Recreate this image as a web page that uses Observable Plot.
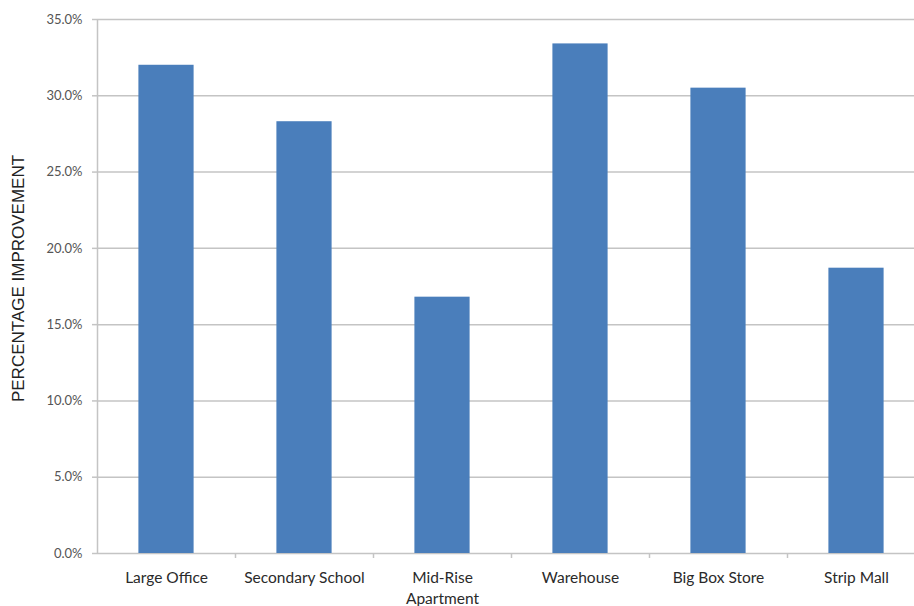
<!DOCTYPE html>
<html>
<head>
<meta charset="utf-8">
<script src="https://cdn.jsdelivr.net/npm/d3@7"></script>
<script src="https://cdn.jsdelivr.net/npm/@observablehq/plot@0.6"></script>
<style>
  html, body { margin: 0; padding: 0; background: #fff; }
  #chart svg { display: block; }
</style>
</head>
<body>
<div id="chart"></div>
<script>
// Building types and their percentage improvement
const categories = ["Large Office", "Secondary School", "Mid-Rise\nApartment", "Warehouse", "Big Box Store", "Strip Mall"];
const improvement = [32.0, 28.3, 16.8, 33.4, 30.5, 18.7];
const yTicks = [0, 5, 10, 15, 20, 25, 30, 35];

const rows = categories.map((name, i) => ({name, i, value: improvement[i]}));
const boundaries = d3.range(1, categories.length + 1);

const gridColor = "#c4c4c4";
const barColor = "#4a7ebb";

const chart = Plot.plot({
  width: 914,
  height: 606,
  marginTop: 19,
  marginBottom: 53,
  marginLeft: 97,
  marginRight: -11,
  style: {background: "#fff", fontFamily: "Lato, 'Open Sans', sans-serif"},
  x: {type: "linear", domain: [0, categories.length], axis: null},
  y: {domain: [0, 35], axis: null},
  marks: [
    // horizontal gridlines
    Plot.ruleY(yTicks, {stroke: gridColor, strokeWidth: 1.5}),
    // vertical axis line
    Plot.ruleX([0], {stroke: gridColor, strokeWidth: 1.5}),
    // bars
    Plot.rectY(rows, {
      x1: d => d.i + 0.3,
      x2: d => d.i + 0.7,
      y1: 0,
      y2: "value",
      fill: barColor
    }),
    // y axis ticks and labels
    Plot.axisY({
      ticks: yTicks,
      tickSize: 5,
      tickPadding: 10,
      stroke: gridColor,
      strokeWidth: 1.5,
      fontSize: 13,
      fill: "#555",
      tickFormat: d => d.toFixed(1) + "%",
      label: null
    }),
    // category boundary ticks along the baseline
    Plot.axisX({
      ticks: boundaries,
      tickSize: 5,
      tickFormat: () => "",
      stroke: gridColor,
      strokeWidth: 1.5,
      label: null
    }),
    // category names
    Plot.text(rows, {
      x: d => d.i + 0.5,
      text: "name",
      frameAnchor: "bottom",
      lineAnchor: "top",
      dy: 15,
      lineHeight: 1.33,
      fontSize: 15.5,
      fill: "#2a2a2a"
    }),
    // y axis title
    Plot.text(["PERCENTAGE IMPROVEMENT"], {
      frameAnchor: "left",
      textAnchor: "middle",
      rotate: -90,
      dx: -79,
      dy: -8,
      fontSize: 17,
      fontFamily: "'Liberation Sans', Arial, sans-serif",
      fill: "#222"
    })
  ]
});

document.getElementById("chart").appendChild(chart);
</script>
</body>
</html>
